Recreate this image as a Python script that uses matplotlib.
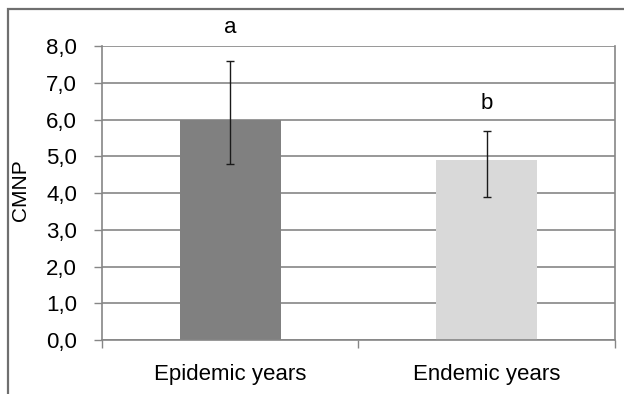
import matplotlib.pyplot as plt
from matplotlib.patches import Rectangle

plt.rcParams['font.family'] = ['Liberation Sans', 'DejaVu Sans']

# data
categories = ['Epidemic years', 'Endemic years']
means = [6.0, 4.9]
err_low = [1.2, 1.0]
err_high = [1.6, 0.8]
letters = ['a', 'b']
letter_y = [8.37, 6.30]
bar_colors = ['#808080', '#d9d9d9']
yticks = [0, 1, 2, 3, 4, 5, 6, 7, 8]

fig = plt.figure(figsize=(6.24, 3.94), dpi=100)
ax = fig.add_axes([0.1635, 0.137, 0.822, 0.746])

# outer frame of the chart
fig.patches.append(Rectangle((8 / 624, -0.1), 1.2, (394 - 8.5) / 394 + 0.1,
                             transform=fig.transFigure, fill=False,
                             edgecolor='#6f6f6f', linewidth=1.6, zorder=0))

x = range(len(categories))
ax.bar(x, means, width=0.395, color=bar_colors, zorder=2)
ax.errorbar(x, means, yerr=[err_low, err_high], fmt='none', ecolor='#1a1a1a',
            elinewidth=1.0, capsize=3, capthick=1.0, zorder=3)

for i, t in enumerate(letters):
    ax.text(i, letter_y[i], t, ha='center', va='baseline', fontsize=16, clip_on=False)

ax.set_xlim(-0.5, 1.5)
ax.set_ylim(0, 8)
ax.set_yticks(yticks)
ax.set_yticklabels(['%d,0' % v for v in yticks], fontsize=16)
ax.set_ylabel('CMNP', fontsize=15)
ax.yaxis.set_label_coords(-0.14, 0.51)

ax.set_xticks([-0.5, 0.5, 1.5])
ax.set_xticklabels([])
ax.set_xticks([0, 1], minor=True)
ax.set_xticklabels(categories, minor=True, fontsize=16)
ax.tick_params(axis='x', which='minor', length=0, pad=17)
ax.tick_params(axis='x', which='major', length=6, color='#868686', width=1)
ax.tick_params(axis='y', length=6, color='#868686', width=1, pad=12)

ax.yaxis.grid(True, color='#868686', linewidth=1.2, zorder=0)
ax.set_axisbelow(True)
for s in ['left', 'bottom', 'right']:
    ax.spines[s].set_color('#868686')
    ax.spines[s].set_linewidth(1.2)
ax.spines['top'].set_visible(False)

fig.savefig('out.png', dpi=100)
